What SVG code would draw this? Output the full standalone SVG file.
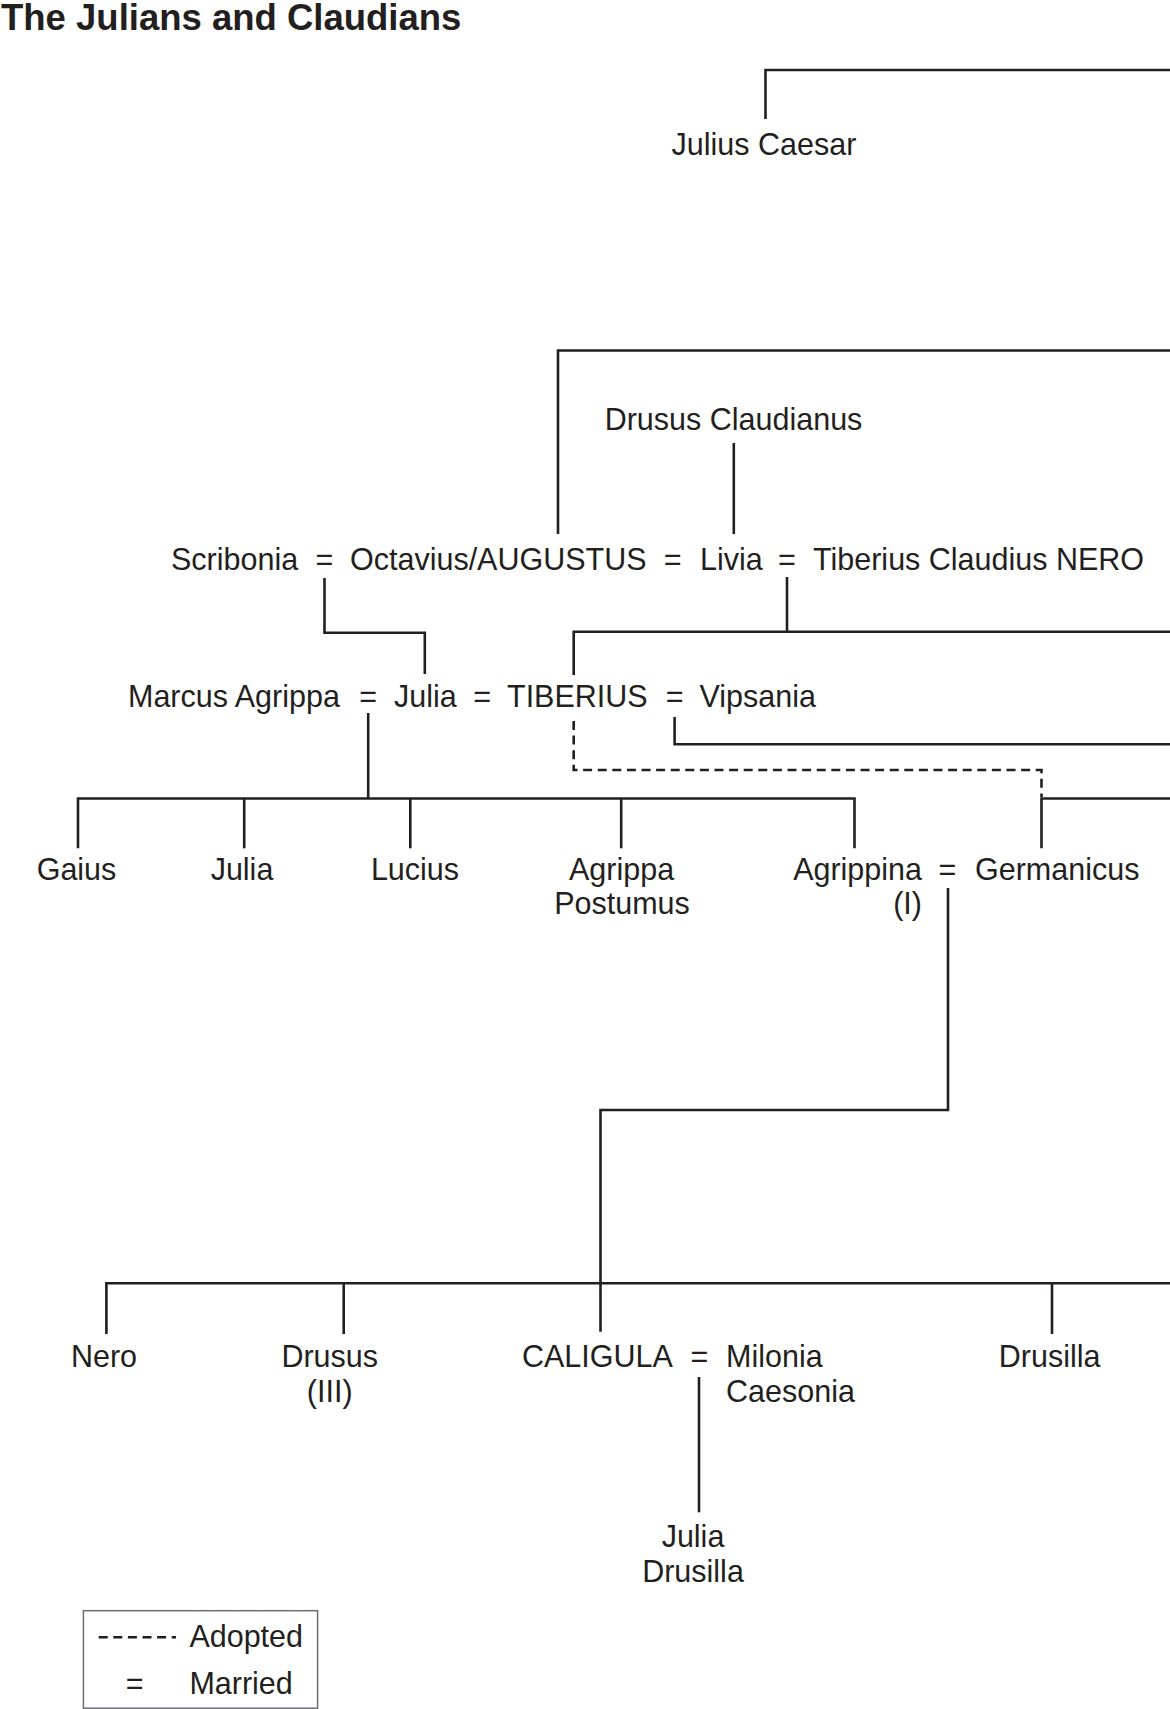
<svg xmlns="http://www.w3.org/2000/svg" width="1170" height="1709" viewBox="0 0 1170 1709">
<style>
  text { font-family: "Liberation Sans", Arial, sans-serif; font-size: 30.5px; fill: #231f20; }
  .title { font-weight: bold; font-size: 36.5px; }
  .m { text-anchor: middle; }
  .e { text-anchor: end; }
  .ln { fill: none; stroke: #231f20; stroke-width: 2.6; stroke-linecap: butt; stroke-linejoin: miter; }
  .dash { fill: none; stroke: #231f20; stroke-width: 2.6; stroke-dasharray: 9 5.6; }
  .box { fill: none; stroke: #6d6e71; stroke-width: 1.5; }
</style>
<rect width="1170" height="1709" fill="#ffffff"/>
<text class="title" x="1" y="30">The Julians and Claudians</text>

<g id="connectors">
  <path class="ln" d="M765.5 119 V70 H1170"/>
  <path class="ln" d="M558 534 V350.5 H1170"/>
  <path class="ln" d="M733.8 443 V534"/>
  <path class="ln" d="M324.5 578 V632.7 H424.8 V674"/>
  <path class="ln" d="M787 577 V631.7"/>
  <path class="ln" d="M573.7 675 V631.7 H1170"/>
  <path class="ln" d="M674.6 717 V744.3 H1170"/>
  <path class="ln" d="M368.2 713 V798.5"/>
  <path class="ln" d="M78 848.3 V798.5 H854.5 V848.3"/>
  <path class="ln" d="M244.2 798.5 V848.3"/>
  <path class="ln" d="M410.3 798.5 V848.3"/>
  <path class="ln" d="M621.2 798.5 V848.3"/>
  <path class="ln" d="M1041.5 848.3 V798.5 H1170"/>
  <path class="dash" d="M573.7 721 V770 H1041.5 V797"/>
  <path class="ln" d="M948 888 V1110 H600.5 V1331.7"/>
  <path class="ln" d="M106.4 1334 V1283.3 H1170"/>
  <path class="ln" d="M343.7 1283.3 V1334"/>
  <path class="ln" d="M1052 1283.3 V1334"/>
  <path class="ln" d="M699 1377 V1512.3"/>
</g>

<g id="julius-caesar"><text class="m" x="764" y="154.5">Julius Caesar</text></g>
<g id="drusus-claudianus"><text class="m" x="733.5" y="430">Drusus Claudianus</text></g>

<g id="scribonia"><text x="171" y="569.5">Scribonia</text></g>
<g id="m1"><text class="m" x="324.5" y="569.5">=</text></g>
<g id="augustus"><text x="350" y="569.5">Octavius/AUGUSTUS</text></g>
<g id="m2"><text class="m" x="672.7" y="569.5">=</text></g>
<g id="livia"><text x="700" y="569.5">Livia</text></g>
<g id="m3"><text class="m" x="787" y="569.5">=</text></g>
<g id="tiberius-claudius-nero"><text x="813" y="569.5">Tiberius Claudius NERO</text></g>

<g id="marcus-agrippa"><text x="128" y="707">Marcus Agrippa</text></g>
<g id="m4"><text class="m" x="368.2" y="707">=</text></g>
<g id="julia-elder"><text x="394" y="707">Julia</text></g>
<g id="m5"><text class="m" x="482.2" y="707">=</text></g>
<g id="tiberius"><text x="507" y="707">TIBERIUS</text></g>
<g id="m6"><text class="m" x="674.6" y="707">=</text></g>
<g id="vipsania"><text x="699.5" y="707">Vipsania</text></g>

<g id="gaius"><text class="m" x="76.5" y="880">Gaius</text></g>
<g id="julia-younger"><text class="m" x="242" y="880">Julia</text></g>
<g id="lucius"><text class="m" x="415" y="880">Lucius</text></g>
<g id="agrippa-postumus"><text class="m" x="621.6" y="880">Agrippa</text><text class="m" x="622" y="913.5">Postumus</text></g>
<g id="agrippina"><text class="e" x="922" y="880">Agrippina</text><text class="e" x="922" y="913.5">(I)</text></g>
<g id="m7"><text class="m" x="947.4" y="880">=</text></g>
<g id="germanicus"><text x="975" y="880">Germanicus</text></g>

<g id="nero"><text class="m" x="104" y="1366.7">Nero</text></g>
<g id="drusus-iii"><text class="m" x="329.7" y="1366.7">Drusus</text><text class="m" x="329.7" y="1401.7">(III)</text></g>
<g id="caligula"><text x="522" y="1366.7">CALIGULA</text></g>
<g id="m8"><text class="m" x="699.5" y="1366.7">=</text></g>
<g id="milonia-caesonia"><text x="726" y="1366.7">Milonia</text><text x="726" y="1401.7">Caesonia</text></g>
<g id="drusilla"><text class="m" x="1049.6" y="1366.7">Drusilla</text></g>

<g id="julia-drusilla"><text class="m" x="693" y="1546.7">Julia</text><text class="m" x="693" y="1581.7">Drusilla</text></g>

<g id="legend">
  <rect class="box" x="83.4" y="1610.7" width="234.2" height="97.5"/>
  <path class="dash" d="M98.7 1637.3 H176"/>
  <text x="189.4" y="1646.7">Adopted</text>
  <text class="m" x="134.7" y="1694">=</text>
  <text x="189.4" y="1694">Married</text>
</g>
</svg>
